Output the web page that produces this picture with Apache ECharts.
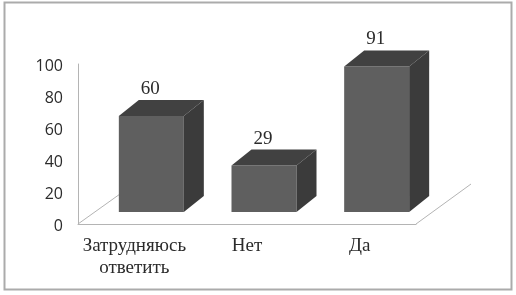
<!DOCTYPE html>
<html><head><meta charset="utf-8">
<style>html,body{margin:0;padding:0;background:#fff}#c{width:516px;height:295px}</style>
<script src="https://cdn.jsdelivr.net/npm/echarts@6/dist/echarts.min.js"></script>
</head><body><div id="c"></div>
<script>
const categories = ['Затрудняюсь\nответить', 'Нет', 'Да'];
const values = [60, 29, 91];
const yTicks = {min: 0, max: 100, interval: 20};

const chart = echarts.init(document.getElementById('c'), null, {renderer: 'canvas'});
const barW = 65, depthX = 20, depthY = 16, shiftX = 17, shiftY = 12;

chart.setOption({
  animation: false,
  backgroundColor: '#fff',
  graphic: [{type: 'rect', silent: true, z: -10,
    shape: {x: 4.5, y: 2.5, width: 507, height: 287},
    style: {fill: '#fff', stroke: '#ababab', lineWidth: 2}}],
  grid: {left: 78, top: 64, width: 338, height: 160, containLabel: false},
  xAxis: {type: 'category', data: categories,
    axisTick: {show: false},
    axisLine: {lineStyle: {color: '#b4b4b4', width: 1}},
    axisLabel: {fontFamily: 'Liberation Serif', fontSize: 19, color: '#2b2b2b', margin: 11, lineHeight: 22, interval: 0}},
  yAxis: {type: 'value', min: yTicks.min, max: yTicks.max, interval: yTicks.interval,
    splitLine: {show: false}, axisTick: {show: false},
    axisLine: {show: true, lineStyle: {color: '#b4b4b4', width: 1}},
    axisLabel: {margin: 15, formatter: '{t|{value}}',
      rich: {t: {fontFamily: 'Open Sans', fontSize: 16, color: '#2b2b2b', padding: [4, 0, 0, 0]}}}},
  series: [
    {type: 'custom', z: 1, silent: true, data: [0],
     renderItem(params, api) {
       const cs = params.coordSys, x0 = cs.x, x1 = cs.x + cs.width, yb = cs.y + cs.height;
       const ls = {stroke: '#b4b4b4', lineWidth: 1, fill: null};
       return {type: 'group', children: [
         {type: 'line', shape: {x1: x0, y1: yb, x2: x0 + 42, y2: yb - 30}, style: ls},
         {type: 'line', shape: {x1: x1, y1: yb, x2: x1 + 55, y2: yb - 40}, style: ls}
       ]};
     }},
    {type: 'custom', z: 3, silent: true,
     data: values.map((v, i) => [i, v]),
     encode: {x: 0, y: 1},
     renderItem(params, api) {
       const top = api.coord([api.value(0), api.value(1)]);
       const base = api.coord([api.value(0), 0]);
       const l = top[0] + shiftX - barW / 2, r = l + barW;
       const t = top[1] - shiftY, b = base[1] - shiftY;
       return {type: 'group', children: [
         {type: 'rect', shape: {x: l, y: t, width: barW, height: b - t}, style: {fill: '#5f5f5f'}},
         {type: 'polygon', shape: {points: [[l, t], [l + depthX, t - depthY], [r + depthX, t - depthY], [r, t]]}, style: {fill: '#414141'}},
         {type: 'polygon', shape: {points: [[r, t], [r + depthX, t - depthY], [r + depthX, b - depthY], [r, b]]}, style: {fill: '#3b3b3b'}},
         {type: 'text', style: {text: String(api.value(1)), x: (l + r) / 2 - 1, y: t - 27,
           align: 'center', verticalAlign: 'middle', fill: '#2b2b2b', font: "19px 'Liberation Serif'"}}
       ]};
     }}
  ]
});
</script></body></html>
